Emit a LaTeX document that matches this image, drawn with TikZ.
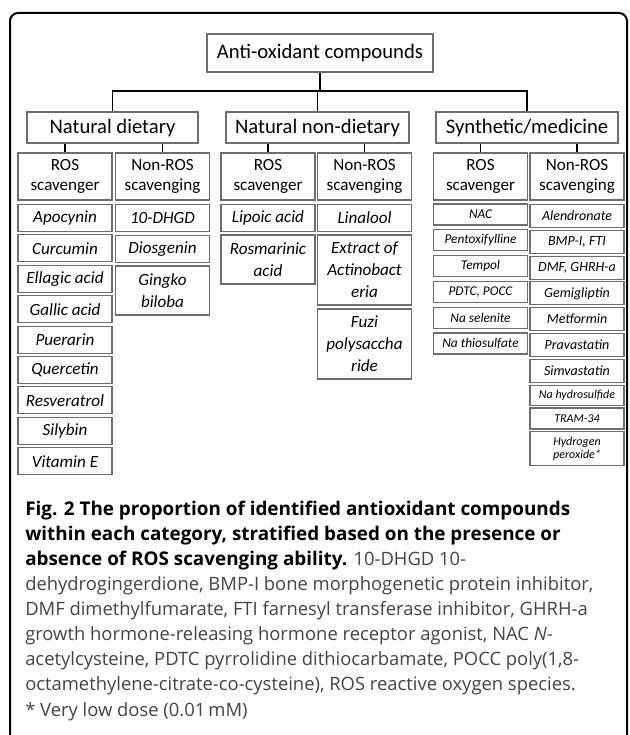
\documentclass[tikz,border=0pt]{standalone}
\usepackage{fontspec}
\setmainfont{Carlito}
\newfontfamily\capfont{Open Sans}
\definecolor{boxgray}{HTML}{6E6E6E}
\definecolor{capgray}{HTML}{444444}
\tikzset{
 box/.style={draw=boxgray, line width=0.8pt, inner sep=0pt, align=center, minimum width=70.5pt},
 head/.style={box, minimum height=23.25pt, font=\fontsize{15.5}{18}\selectfont},
 sub/.style={box, minimum height=35.25pt, font=\fontsize{12.8}{15.5}\selectfont},
 item/.style={box, minimum height=20.25pt, font=\itshape\fontsize{12.8}{16.5}\selectfont},
 itemsm/.style={box, minimum height=15.75pt, font=\itshape\fontsize{10}{12}\selectfont},
 itemsn/.style={box, minimum height=17.25pt, font=\itshape\fontsize{10.5}{12}\selectfont},
 itemxs/.style={box, minimum height=15.75pt, font=\itshape\fontsize{9}{10}\selectfont},
 link/.style={line width=1.1pt},
}
\newcommand\capbold[1]{\textcolor{black}{\fontsize{14.15}{18.84}\selectfont\bfseries #1}}
\begin{document}
\begin{tikzpicture}[x=0.75pt, y=-0.75pt]
 \useasboundingbox (0,0) rectangle (629,735);
 \draw [line width=1.5pt, rounded corners=6pt] (10,735) |- (627,13) -- (627,735);
 % top of the tree
 \node [head, minimum width=169.5pt, minimum height=28.5pt] (top) at (320,53) {Anti-oxidant compounds};
 \coordinate (bar) at (0,91);
 \node [head, minimum width=128.25pt] (diet) at (112.5,127.5) {Natural dietary};
 \node [head, minimum width=137.25pt] (nondiet) at (317.5,127.5) {Natural non-dietary};
 \node [head, minimum width=136.5pt] (synth) at (527,127.5) {Synthetic/medicine};
 \draw [link] (top.south) -- (top.south |- bar);
 \draw [link] (diet.north) |- (synth.north |- bar) -- (synth.north);
 \draw [link] (nondiet.north) -- (nondiet.north |- bar);
 % ROS / non-ROS
 \node [sub] (dros) at (65,176.5) {ROS\\scavenger};
 \node [sub] (dnon) at (162.5,176.5) {Non-ROS\\scavenging};
 \node [sub] (nros) at (268,176.5) {ROS\\scavenger};
 \node [sub] (nnon) at (364.5,176.5) {Non-ROS\\scavenging};
 \node [sub] (sros) at (480.5,176.5) {ROS\\scavenger};
 \node [sub] (snon) at (577,176.5) {Non-ROS\\scavenging};
 \foreach \a/\b in {diet/dros, diet/dnon, nondiet/nros, nondiet/nnon, synth/sros, synth/snon}
  \draw [link] (\b.north |- \a.south) -- (\b.north);
 % natural dietary
 \foreach \name [count=\i] in {Apocynin, Curcumin, Ellagic acid, Gallic acid, Puerarin, Quercetin, Resveratrol, Silybin, Vitamin E}
  \node [item] (dros\i) at (65,{218+(\i-1)*30.4}) {\name};
 \node [item] (dnon1) at (162.5,218) {10-DHGD};
 \node [item] (dnon2) at (162.5,249) {Diosgenin};
 \node [item, minimum height=36.75pt] (dnon3) at (162.5,290.5) {Gingko\\biloba};
 % natural non-dietary
 \node [item] (nros1) at (268,218) {Lipoic acid};
 \node [item, minimum height=36.75pt] (nros2) at (268,259.5) {Rosmarinic\\acid};
 \node [item] (nnon1) at (364.5,218) {Linalool};
 \node [item, minimum height=52.5pt] (nnon2) at (364.5,270) {Extract of\\Actinobact\\eria};
 \node [item, minimum height=52.5pt] (nnon3) at (364.5,344) {Fuzi\\polysaccha\\ride};
 % synthetic/medicine
 \foreach \name [count=\i] in {NAC, Pentoxifylline, Tempol, {PDTC, POCC}, Na selenite, Na thiosulfate}
  \node [itemsm] (sros\i) at (480.5,{214.5+(\i-1)*25.8}) {\name};
 \foreach \name [count=\i] in {Alendronate, {BMP-I, FTI}, {DMF, GHRH-a}, Gemigliptin, Metformin, Pravastatin, Simvastatin}
  \node [itemsn] (snon\i) at (577,{216+(\i-1)*25.8}) {\name};
 \node [itemxs, minimum height=15pt] (snon8) at (577,395.5) {Na hydrosulfide};
 \node [itemxs] (snon9) at (577,418.5) {TRAM-34};
 \node [itemxs, minimum height=25.5pt] (snon10) at (577,448.5) {Hydrogen\\peroxide*};
 % caption
 \node [anchor=base west, align=left, inner sep=0pt, text=capgray, font=\capfont\fontsize{13.8}{18.84}\selectfont] (cap) at (25,716)
  {\capbold{Fig. 2 The proportion of identified antioxidant compounds}\\
   \capbold{within each category, stratified based on the presence or}\\
   \capbold{absence of ROS scavenging ability.} 10-DHGD 10-\\
   dehydrogingerdione, BMP-I bone morphogenetic protein inhibitor,\\
   DMF dimethylfumarate, FTI farnesyl transferase inhibitor, GHRH-a\\
   growth hormone-releasing hormone receptor agonist, NAC \textit{N}-\\
   acetylcysteine, PDTC pyrrolidine dithiocarbamate, POCC poly(1,8-\\
   octamethylene-citrate-co-cysteine), ROS reactive oxygen species.\\
   * Very low dose (0.01\,mM)};
\end{tikzpicture}
\end{document}
